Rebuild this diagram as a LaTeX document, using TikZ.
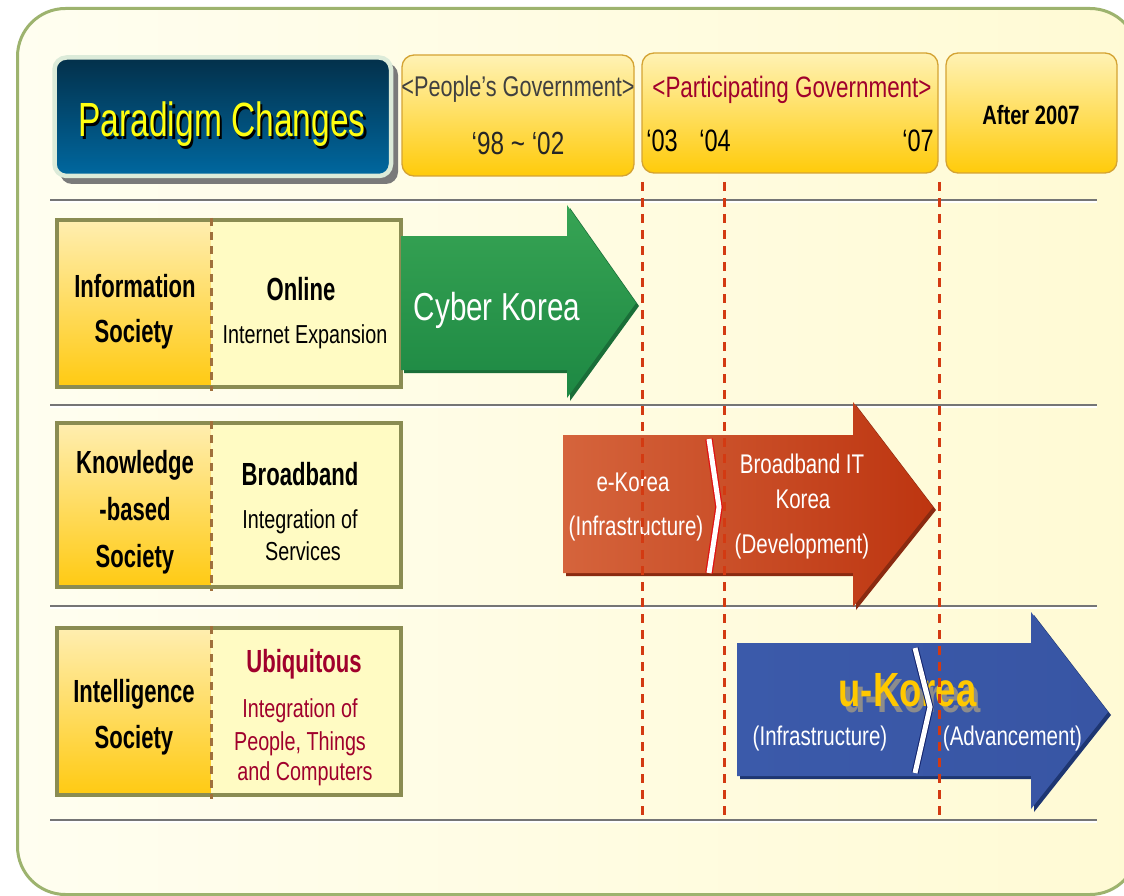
\documentclass[tikz,border=0pt]{standalone}
\usepackage{fontspec}
\setmainfont{Liberation Sans}
\newfontfamily\nf[FakeStretch=0.76]{Liberation Sans}
\newfontfamily\nfc[FakeStretch=0.69]{Liberation Sans}
\newcommand\fz[1]{\fontsize{#1}{#1}\selectfont}
\newcommand\hsx[2]{\scalebox{#1}[1]{#2}}
\definecolor{frameline}{HTML}{9DB36E}
\definecolor{bgl}{HTML}{FFFEF0}
\definecolor{bgr}{HTML}{FFFAD4}
\definecolor{pdtop}{HTML}{03304A}
\definecolor{pdbot}{HTML}{0068A0}
\definecolor{pdline}{HTML}{DCEBD9}
\definecolor{pdshadow}{HTML}{7A7A7A}
\definecolor{pyellow}{HTML}{FFFF10}
\definecolor{hdrtop}{HTML}{FFF2B4}
\definecolor{hdrbot}{HTML}{FFCB0A}
\definecolor{hdrline}{HTML}{D4A333}
\definecolor{goldtop}{HTML}{FFEEB0}
\definecolor{goldbot}{HTML}{FFCA12}
\definecolor{pale}{HTML}{FFFBC3}
\definecolor{boxline}{HTML}{8A8C52}
\definecolor{divline}{HTML}{A0703C}
\definecolor{rowgray}{HTML}{757575}
\definecolor{redash}{HTML}{D33A12}
\definecolor{txtred}{HTML}{A0002C}
\definecolor{ppl}{HTML}{404040}
\definecolor{grtop}{HTML}{37A454}
\definecolor{grbot}{HTML}{1D8843}
\definecolor{grshadow}{HTML}{1A6E38}
\definecolor{ortl}{HTML}{D5643C}
\definecolor{orbr}{HTML}{BD3510}
\definecolor{orshadow}{HTML}{8A2A10}
\definecolor{bluea}{HTML}{3B5AAA}
\definecolor{blueb}{HTML}{3855A4}
\definecolor{blueshadow}{HTML}{1E3672}
\definecolor{ugold}{HTML}{FFC800}
\definecolor{sepblue}{HTML}{10206A}
\definecolor{sepred}{HTML}{E01010}
\tikzset{
  txt/.style={inner sep=0pt, anchor=base},
  hdrbox/.style={draw=hdrline, line width=1.3pt, rounded corners=12pt, top color=hdrtop, bottom color=hdrbot},
  goldpart/.style={top color=goldtop, bottom color=goldbot},
  palepart/.style={fill=pale},
  boxedge/.style={draw=boxline, line width=3.5pt},
  divider/.style={draw=divline, line width=3pt, dash pattern=on 8pt off 6pt},
  rowline/.style={draw=rowgray, line width=2pt},
  rowhl/.style={draw=white, line width=1.5pt},
  yeardash/.style={draw=redash, line width=3pt, dash pattern=on 9pt off 7pt},
  lefttext/.style={txt, font=\nfc\fz{32}\bfseries},
  subtext/.style={txt, font=\nf\fz{26}},
  arrtext/.style={txt, text=white, font=\nf\fz{27}},
}
\begin{document}
\begin{tikzpicture}[x=1pt,y=-1pt]
\useasboundingbox (0,0) rectangle (1124,896);
\begin{scope}
\clip (0,0) rectangle (1124,896);
\fill[white] (0,0) rectangle (1124,896);
\draw[draw=frameline, line width=3pt, rounded corners=48pt, left color=bgl, right color=bgr] (17.5,8.5) rectangle (1138,894.5);
\end{scope}

% row lines
\foreach \yy in {200,405,606,820}{
  \draw[rowline] (50,\yy) -- (1097,\yy);
  \draw[rowhl] (50,\yy+2) -- (1097,\yy+2);
}

% Paradigm box
\fill[pdshadow, rounded corners=12pt] (60,63) rectangle (398,184);
\draw[draw=pdline, line width=4.5pt, rounded corners=12pt, top color=pdtop, bottom color=pdbot] (54.5,57.5) rectangle (391,176);
\node[txt, text=black] at (224.5,139.5) {\nf\fz{48}\hsx{0.92}{Paradigm Changes}};
\node[txt, text=pyellow] (pd) at (222,137) {\nf\fz{48}\hsx{0.92}{Paradigm Changes}};

% header boxes
\draw[hdrbox] (402,55) rectangle (634,176);
\draw[hdrbox] (642,53) rectangle (938,173);
\draw[hdrbox] (946,53) rectangle (1117,173);
\node[txt, text=ppl] (peo) at (518,97) {\nf\fz{28.5}<People’s Government>};
\node[txt, text=black!85] (y98) at (518,155) {\nf\fz{32}‘98 \textasciitilde{} ‘02};
\node[txt, text=txtred] (par) at (792,98) {\nf\fz{29.5}<Participating Government>};
\node[txt] (y03) at (662,152) {\nf\fz{31}‘03};
\node[txt] (y04) at (715,152) {\nf\fz{31}‘04};
\node[txt] (y07) at (918,152) {\nf\fz{31}‘07};
\node[txt] (aft) at (1031,125) {\nf\fz{26.5}\bfseries After 2007};

% left boxes
\foreach \tt/\bb in {220/387,423/587,628/795}{
  \fill[goldpart] (57,\tt) rectangle (211,\bb);
  \fill[palepart] (211,\tt) rectangle (401,\bb);
  \draw[boxedge] (57,\tt) rectangle (401,\bb);
  \draw[divider] (211,\tt-2) -- (211,\bb+4);
}
\node[lefttext] (inf1) at (135,297) {Information};
\node[lefttext] (inf2) at (134,342) {Society};
\node[lefttext] (onl) at (301,300) {Online};
\node[subtext] (inet) at (305,343) {Internet Expansion};
\node[lefttext] (kn1) at (135,473) {Knowledge};
\node[lefttext] (kn2) at (135,520) {-based};
\node[lefttext] (kn3) at (135,567) {Society};
\node[lefttext] (brd) at (300,485) {Broadband};
\node[subtext] (int1) at (300,528) {Integration of};
\node[subtext] (srv) at (303,560) {Services};
\node[lefttext] (il1) at (134,702) {Intelligence};
\node[lefttext] (il2) at (134,748) {Society};
\node[lefttext, text=txtred] (ubi) at (304,672) {Ubiquitous};
\node[subtext, text=txtred] (int2) at (300,717) {Integration of};
\node[subtext, text=txtred] (ppt) at (300,750) {People, Things};
\node[subtext, text=txtred] (cmp) at (305,780) {and Computers};

% green arrow
\fill[grshadow, shift={(3,3)}] (401,236) -- (567,236) -- (567,205) -- (636,303) -- (567,398) -- (567,370) -- (401,370) -- cycle;
\shade[top color=grtop, bottom color=grbot] (401,236) -- (567,236) -- (567,205) -- (636,303) -- (567,398) -- (567,370) -- (401,370) -- cycle;
\node[txt, text=white] (cyb) at (497,320) {\nf\fz{39}Cyber Korea};

% orange arrow
\fill[orshadow, shift={(3,3)}] (563,435) -- (853,435) -- (853,402) -- (933,507) -- (853,607) -- (853,573) -- (563,573) -- cycle;
\shade[left color=ortl, right color=orbr] (563,435) -- (853,435) -- (853,402) -- (933,507) -- (853,607) -- (853,573) -- (563,573) -- cycle;
\node[arrtext] (ek1) at (633,491) {e-Korea};
\node[arrtext] (ek2) at (636,535) {(Infrastructure)};
\node[arrtext] (bk1) at (802,473) {Broadband IT};
\node[arrtext] (bk2) at (803,508) {Korea};
\node[arrtext] (bk3) at (802,553) {(Development)};
\draw[sepred, line width=7.5pt] (709,439) -- (719,507) -- (709,573);
\draw[white, line width=5pt] (709,439) -- (719,507) -- (709,573);

% blue arrow
\fill[blueshadow, shift={(3,3)}] (737,643) -- (1031,643) -- (1031,612) -- (1108,712) -- (1031,809) -- (1031,776) -- (737,776) -- cycle;
\shade[left color=bluea, right color=blueb] (737,643) -- (1031,643) -- (1031,612) -- (1108,712) -- (1031,809) -- (1031,776) -- (737,776) -- cycle;
\node[txt, text=black!45] at (912,712) {\nf\fz{48}\bfseries u-Korea};
\node[txt, text=ugold] (uk) at (907.5,706) {\nf\fz{48}\bfseries u-Korea};
\node[arrtext] (ui) at (820,745) {(Infrastructure)};
\node[arrtext] (ua) at (1012.5,745) {(Advancement)};
\draw[sepblue, line width=7pt] (915,648) -- (930,707) -- (915,773);
\draw[white, line width=5pt] (915,648) -- (930,707) -- (915,773);

% year dashed lines
\draw[yeardash] (642,182) -- (642,815);
\draw[yeardash] (724,182) -- (724,815);
\draw[yeardash] (939,182) -- (939,815);
\end{tikzpicture}
\end{document}
